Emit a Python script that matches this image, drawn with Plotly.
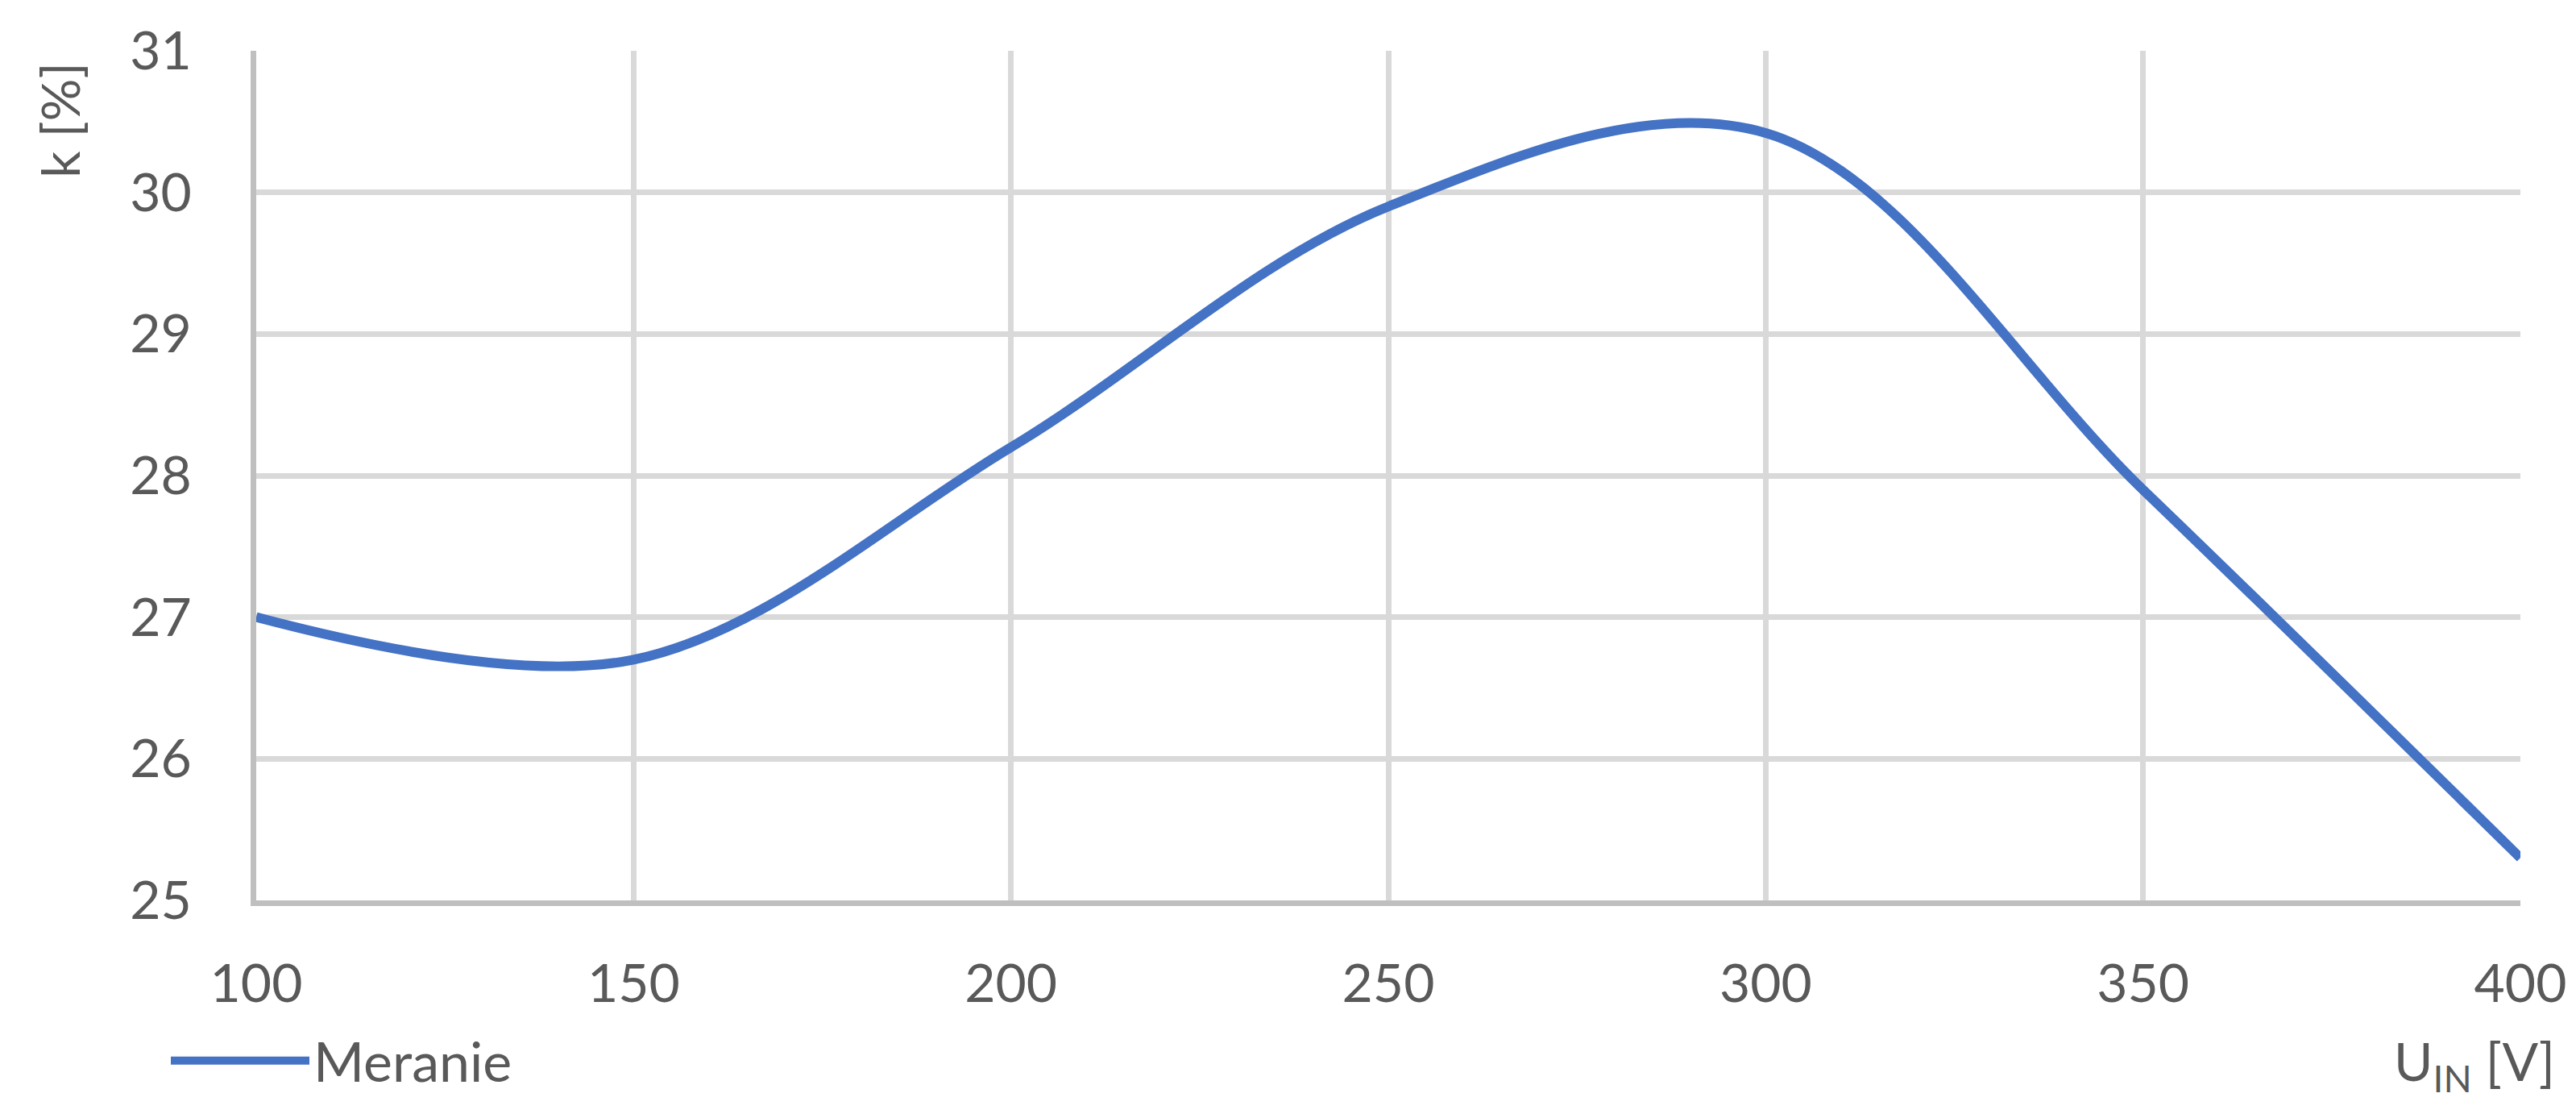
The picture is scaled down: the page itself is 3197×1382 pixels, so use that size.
import plotly.graph_objects as go

u_in = [100, 150, 200, 250, 300, 350, 400]
k_pct = [27.0, 26.7, 28.2, 29.9, 30.42, 27.9, 25.3]
series_name = "Meranie"
x_ticks = [100, 150, 200, 250, 300, 350, 400]
y_ticks = [25, 26, 27, 28, 29, 30, 31]

W, H = 3197, 1382
L, R, T, B = 310, 77, 55, 273
PW, PH = W - L - R, H - T - B
FONT = "Lato"
GREY = "#595959"

fig = go.Figure()
fig.add_trace(go.Scatter(
    x=u_in, y=k_pct, mode="lines", name=series_name,
    line=dict(color="#4472C4", width=12, shape="spline", smoothing=1.0),
    showlegend=True,
))

fig.update_layout(
    width=W, height=H,
    margin=dict(l=L, r=R, t=T, b=B, autoexpand=False),
    paper_bgcolor="white", plot_bgcolor="white",
    font=dict(family=FONT, size=66, color=GREY),
    showlegend=True,
    legend=dict(
        x=-0.0395, y=1 - (1308 - T) / PH, xanchor="left", yanchor="middle",
        orientation="h", itemwidth=172, font=dict(size=68, color=GREY),
        bgcolor="rgba(0,0,0,0)", tracegroupgap=0,
    ),
    xaxis=dict(
        range=[100, 400], tickvals=x_ticks, ticktext=[str(v) for v in x_ticks],
        showgrid=True, gridcolor="#D9D9D9", gridwidth=7,
        showline=True, linecolor="#BFBFBF", linewidth=7,
        zeroline=False, ticks="", ticklabelstandoff=40,
        tickfont=dict(family=FONT, size=66, color=GREY),
    ),
    yaxis=dict(
        range=[25, 31], tickvals=y_ticks, ticktext=[str(v) for v in y_ticks],
        showgrid=True, gridcolor="#D9D9D9", gridwidth=7,
        showline=True, linecolor="#BFBFBF", linewidth=7,
        zeroline=False, ticks="", ticklabelstandoff=60,
        tickfont=dict(family=FONT, size=66, color=GREY),
    ),
    annotations=[
        dict(text="k [%]", xref="paper", yref="paper",
             x=(66 - L) / PW, y=1 - (141 - T) / PH,
             xanchor="center", yanchor="middle", textangle=-90, showarrow=False,
             font=dict(family=FONT, size=66, color=GREY)),
        dict(text="U<sub>IN</sub> [V]", xref="paper", yref="paper",
             x=(3165 - L) / PW, y=1 - (1312 - T) / PH,
             xanchor="right", yanchor="middle", showarrow=False,
             font=dict(family=FONT, size=66, color=GREY)),
    ],
)

fig.write_html("out.html")
